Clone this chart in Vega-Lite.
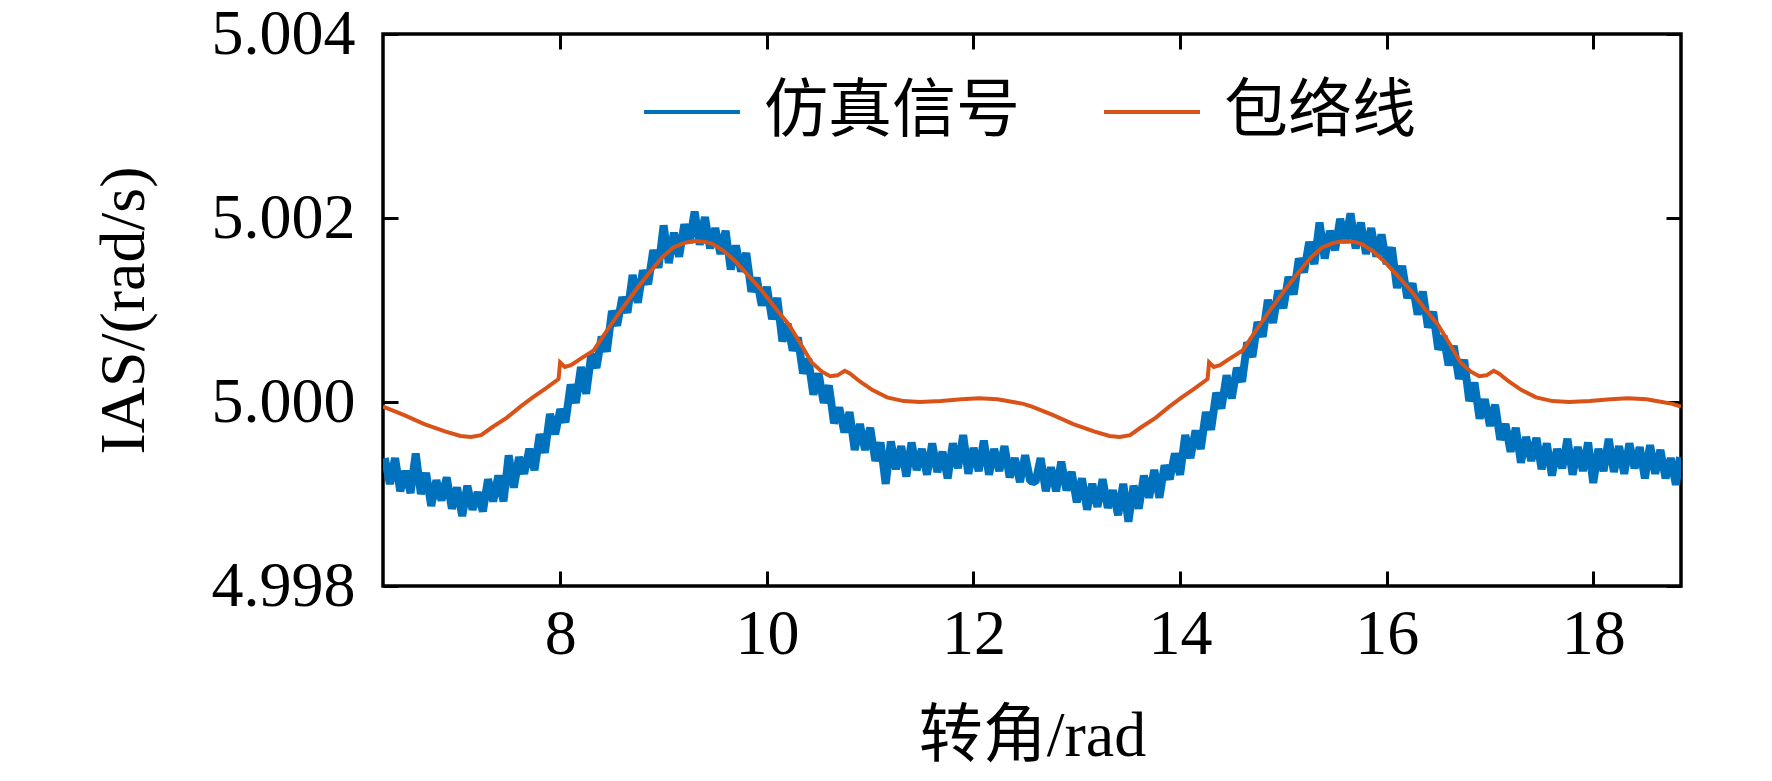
{
  "$schema": "https://vega.github.io/schema/vega-lite/v6.json",
  "width": 1298,
  "height": 552,
  "autosize": {"type": "none"},
  "padding": {"left": 383, "top": 34, "right": 91, "bottom": 195},
  "background": "white",
  "datasets": {
    "blue": [
      {"x": 6.30, "y": 4.99939}, {"x": 6.35, "y": 4.99911}, {"x": 6.40, "y": 4.99939}, {"x": 6.45, "y": 4.99903},
      {"x": 6.50, "y": 4.99925}, {"x": 6.55, "y": 4.99901}, {"x": 6.60, "y": 4.99944}, {"x": 6.65, "y": 4.99900},
      {"x": 6.70, "y": 4.99923}, {"x": 6.75, "y": 4.99887}, {"x": 6.80, "y": 4.99915}, {"x": 6.85, "y": 4.99893},
      {"x": 6.90, "y": 4.99918}, {"x": 6.95, "y": 4.99884}, {"x": 7.00, "y": 4.99907}, {"x": 7.05, "y": 4.99876},
      {"x": 7.10, "y": 4.99909}, {"x": 7.15, "y": 4.99883}, {"x": 7.20, "y": 4.99902}, {"x": 7.25, "y": 4.99881},
      {"x": 7.30, "y": 4.99916}, {"x": 7.35, "y": 4.99892}, {"x": 7.40, "y": 4.99920}, {"x": 7.45, "y": 4.99892},
      {"x": 7.50, "y": 4.99942}, {"x": 7.55, "y": 4.99907}, {"x": 7.60, "y": 4.99940}, {"x": 7.65, "y": 4.99922},
      {"x": 7.70, "y": 4.99949}, {"x": 7.75, "y": 4.99926}, {"x": 7.80, "y": 4.99965}, {"x": 7.85, "y": 4.99945},
      {"x": 7.90, "y": 4.99987}, {"x": 7.95, "y": 4.99965}, {"x": 8.00, "y": 4.99992}, {"x": 8.05, "y": 4.99978},
      {"x": 8.10, "y": 5.00019}, {"x": 8.15, "y": 4.99999}, {"x": 8.20, "y": 5.00038}, {"x": 8.25, "y": 5.00009},
      {"x": 8.30, "y": 5.00052}, {"x": 8.35, "y": 5.00037}, {"x": 8.40, "y": 5.00071}, {"x": 8.45, "y": 5.00055},
      {"x": 8.50, "y": 5.00099}, {"x": 8.55, "y": 5.00083}, {"x": 8.60, "y": 5.00114}, {"x": 8.65, "y": 5.00097},
      {"x": 8.70, "y": 5.00138}, {"x": 8.75, "y": 5.00108}, {"x": 8.80, "y": 5.00143}, {"x": 8.85, "y": 5.00128},
      {"x": 8.90, "y": 5.00165}, {"x": 8.95, "y": 5.00146}, {"x": 9.00, "y": 5.00192}, {"x": 9.05, "y": 5.00151},
      {"x": 9.10, "y": 5.00184}, {"x": 9.15, "y": 5.00158}, {"x": 9.20, "y": 5.00193}, {"x": 9.25, "y": 5.00173},
      {"x": 9.30, "y": 5.00207}, {"x": 9.35, "y": 5.00171}, {"x": 9.40, "y": 5.00201}, {"x": 9.45, "y": 5.00167},
      {"x": 9.50, "y": 5.00189}, {"x": 9.55, "y": 5.00161}, {"x": 9.60, "y": 5.00186}, {"x": 9.65, "y": 5.00144},
      {"x": 9.70, "y": 5.00170}, {"x": 9.75, "y": 5.00142}, {"x": 9.80, "y": 5.00162}, {"x": 9.85, "y": 5.00120},
      {"x": 9.90, "y": 5.00135}, {"x": 9.95, "y": 5.00105}, {"x": 10.00, "y": 5.00125}, {"x": 10.05, "y": 5.00090},
      {"x": 10.10, "y": 5.00113}, {"x": 10.15, "y": 5.00066}, {"x": 10.20, "y": 5.00085}, {"x": 10.25, "y": 5.00056},
      {"x": 10.30, "y": 5.00070}, {"x": 10.35, "y": 5.00031}, {"x": 10.40, "y": 5.00047}, {"x": 10.45, "y": 5.00008},
      {"x": 10.50, "y": 5.00031}, {"x": 10.55, "y": 4.99999}, {"x": 10.60, "y": 5.00018}, {"x": 10.65, "y": 4.99977},
      {"x": 10.70, "y": 4.99994}, {"x": 10.75, "y": 4.99967}, {"x": 10.80, "y": 4.99989}, {"x": 10.85, "y": 4.99948},
      {"x": 10.90, "y": 4.99976}, {"x": 10.95, "y": 4.99948}, {"x": 11.00, "y": 4.99972}, {"x": 11.05, "y": 4.99936},
      {"x": 11.10, "y": 4.99956}, {"x": 11.15, "y": 4.99911}, {"x": 11.20, "y": 4.99957}, {"x": 11.25, "y": 4.99927},
      {"x": 11.30, "y": 4.99952}, {"x": 11.35, "y": 4.99919}, {"x": 11.40, "y": 4.99956}, {"x": 11.45, "y": 4.99926},
      {"x": 11.50, "y": 4.99949}, {"x": 11.55, "y": 4.99921}, {"x": 11.60, "y": 4.99955}, {"x": 11.65, "y": 4.99924},
      {"x": 11.70, "y": 4.99946}, {"x": 11.75, "y": 4.99917}, {"x": 11.80, "y": 4.99955}, {"x": 11.85, "y": 4.99928},
      {"x": 11.90, "y": 4.99964}, {"x": 11.95, "y": 4.99922}, {"x": 12.00, "y": 4.99950}, {"x": 12.05, "y": 4.99925},
      {"x": 12.10, "y": 4.99958}, {"x": 12.15, "y": 4.99921}, {"x": 12.20, "y": 4.99949}, {"x": 12.25, "y": 4.99925},
      {"x": 12.30, "y": 4.99952}, {"x": 12.35, "y": 4.99918}, {"x": 12.40, "y": 4.99939}, {"x": 12.45, "y": 4.99913},
      {"x": 12.50, "y": 4.99942}, {"x": 12.55, "y": 4.99914},
      {"x": 12.60, "y": 4.99913}, {"x": 12.65, "y": 4.99939}, {"x": 12.70, "y": 4.99903}, {"x": 12.75, "y": 4.99929},
      {"x": 12.80, "y": 4.99903}, {"x": 12.85, "y": 4.99935}, {"x": 12.90, "y": 4.99904}, {"x": 12.95, "y": 4.99924},
      {"x": 13.00, "y": 4.99891}, {"x": 13.05, "y": 4.99917}, {"x": 13.10, "y": 4.99883}, {"x": 13.15, "y": 4.99911},
      {"x": 13.20, "y": 4.99886}, {"x": 13.25, "y": 4.99916}, {"x": 13.30, "y": 4.99885}, {"x": 13.35, "y": 4.99904},
      {"x": 13.40, "y": 4.99877}, {"x": 13.45, "y": 4.99911}, {"x": 13.50, "y": 4.99870}, {"x": 13.55, "y": 4.99909},
      {"x": 13.60, "y": 4.99884}, {"x": 13.65, "y": 4.99920}, {"x": 13.70, "y": 4.99896}, {"x": 13.75, "y": 4.99926},
      {"x": 13.80, "y": 4.99896}, {"x": 13.85, "y": 4.99931}, {"x": 13.90, "y": 4.99916}, {"x": 13.95, "y": 4.99944},
      {"x": 14.00, "y": 4.99921}, {"x": 14.05, "y": 4.99964}, {"x": 14.10, "y": 4.99939}, {"x": 14.15, "y": 4.99969},
      {"x": 14.20, "y": 4.99949}, {"x": 14.25, "y": 4.99989}, {"x": 14.30, "y": 4.99970}, {"x": 14.35, "y": 5.00010},
      {"x": 14.40, "y": 4.99993}, {"x": 14.45, "y": 5.00029}, {"x": 14.50, "y": 5.00004}, {"x": 14.55, "y": 5.00037},
      {"x": 14.60, "y": 5.00022}, {"x": 14.65, "y": 5.00065}, {"x": 14.70, "y": 5.00049}, {"x": 14.75, "y": 5.00087},
      {"x": 14.80, "y": 5.00071}, {"x": 14.85, "y": 5.00111}, {"x": 14.90, "y": 5.00086}, {"x": 14.95, "y": 5.00121},
      {"x": 15.00, "y": 5.00102}, {"x": 15.05, "y": 5.00136}, {"x": 15.10, "y": 5.00117}, {"x": 15.15, "y": 5.00156},
      {"x": 15.20, "y": 5.00141}, {"x": 15.25, "y": 5.00174}, {"x": 15.30, "y": 5.00150}, {"x": 15.35, "y": 5.00195},
      {"x": 15.40, "y": 5.00156}, {"x": 15.45, "y": 5.00186}, {"x": 15.50, "y": 5.00165}, {"x": 15.55, "y": 5.00199},
      {"x": 15.60, "y": 5.00173}, {"x": 15.65, "y": 5.00205}, {"x": 15.70, "y": 5.00167}, {"x": 15.75, "y": 5.00195},
      {"x": 15.80, "y": 5.00161}, {"x": 15.85, "y": 5.00189}, {"x": 15.90, "y": 5.00158}, {"x": 15.95, "y": 5.00182},
      {"x": 16.00, "y": 5.00150}, {"x": 16.05, "y": 5.00168}, {"x": 16.10, "y": 5.00124}, {"x": 16.15, "y": 5.00148},
      {"x": 16.20, "y": 5.00113}, {"x": 16.25, "y": 5.00129}, {"x": 16.30, "y": 5.00095}, {"x": 16.35, "y": 5.00120},
      {"x": 16.40, "y": 5.00081}, {"x": 16.45, "y": 5.00098}, {"x": 16.50, "y": 5.00057}, {"x": 16.55, "y": 5.00072},
      {"x": 16.60, "y": 5.00040}, {"x": 16.65, "y": 5.00061}, {"x": 16.70, "y": 5.00025}, {"x": 16.75, "y": 5.00046},
      {"x": 16.80, "y": 5.00001}, {"x": 16.85, "y": 5.00021}, {"x": 16.90, "y": 4.99982}, {"x": 16.95, "y": 5.00003},
      {"x": 17.00, "y": 4.99974}, {"x": 17.05, "y": 4.99997}, {"x": 17.10, "y": 4.99959}, {"x": 17.15, "y": 4.99976},
      {"x": 17.20, "y": 4.99946}, {"x": 17.25, "y": 4.99972}, {"x": 17.30, "y": 4.99934}, {"x": 17.35, "y": 4.99962},
      {"x": 17.40, "y": 4.99936}, {"x": 17.45, "y": 4.99961}, {"x": 17.50, "y": 4.99927}, {"x": 17.55, "y": 4.99955},
      {"x": 17.60, "y": 4.99920}, {"x": 17.65, "y": 4.99949}, {"x": 17.70, "y": 4.99928}, {"x": 17.75, "y": 4.99960},
      {"x": 17.80, "y": 4.99921}, {"x": 17.85, "y": 4.99951}, {"x": 17.90, "y": 4.99925}, {"x": 17.95, "y": 4.99956},
      {"x": 18.00, "y": 4.99912}, {"x": 18.05, "y": 4.99949}, {"x": 18.10, "y": 4.99925}, {"x": 18.15, "y": 4.99960},
      {"x": 18.20, "y": 4.99924}, {"x": 18.25, "y": 4.99952}, {"x": 18.30, "y": 4.99922}, {"x": 18.35, "y": 4.99955},
      {"x": 18.40, "y": 4.99928}, {"x": 18.45, "y": 4.99951}, {"x": 18.50, "y": 4.99917}, {"x": 18.55, "y": 4.99953},
      {"x": 18.60, "y": 4.99922}, {"x": 18.65, "y": 4.99948}, {"x": 18.70, "y": 4.99917}, {"x": 18.75, "y": 4.99939},
      {"x": 18.80, "y": 4.99910}, {"x": 18.84, "y": 4.99940}
    ],
    "orange": [
      {"x": 6.2832, "y": 4.99995}, {"x": 6.483, "y": 4.99986}, {"x": 6.683, "y": 4.99976}, {"x": 6.883, "y": 4.99968},
      {"x": 7.033, "y": 4.99963}, {"x": 7.133, "y": 4.99962}, {"x": 7.233, "y": 4.99964}, {"x": 7.333, "y": 4.99972},
      {"x": 7.483, "y": 4.99983}, {"x": 7.613, "y": 4.99995}, {"x": 7.733, "y": 5.00005}, {"x": 7.863, "y": 5.00015},
      {"x": 7.983, "y": 5.00025}, {"x": 7.998, "y": 5.00043}, {"x": 8.043, "y": 5.00038}, {"x": 8.103, "y": 5.00040},
      {"x": 8.183, "y": 5.00046}, {"x": 8.323, "y": 5.00056}, {"x": 8.453, "y": 5.00078}, {"x": 8.583, "y": 5.00099},
      {"x": 8.733, "y": 5.00122}, {"x": 8.873, "y": 5.00142}, {"x": 8.983, "y": 5.00157}, {"x": 9.093, "y": 5.00168},
      {"x": 9.203, "y": 5.00173}, {"x": 9.303, "y": 5.00175}, {"x": 9.403, "y": 5.00174}, {"x": 9.473, "y": 5.00172},
      {"x": 9.583, "y": 5.00164}, {"x": 9.693, "y": 5.00153}, {"x": 9.823, "y": 5.00137}, {"x": 9.953, "y": 5.00121},
      {"x": 10.083, "y": 5.00102}, {"x": 10.213, "y": 5.00084}, {"x": 10.333, "y": 5.00062}, {"x": 10.433, "y": 5.00043},
      {"x": 10.533, "y": 5.00033}, {"x": 10.613, "y": 5.00028}, {"x": 10.683, "y": 5.00029}, {"x": 10.753, "y": 5.00034},
      {"x": 10.803, "y": 5.00031}, {"x": 10.903, "y": 5.00022}, {"x": 11.023, "y": 5.00013}, {"x": 11.163, "y": 5.00005},
      {"x": 11.323, "y": 5.00001}, {"x": 11.483, "y": 5.00000}, {"x": 11.683, "y": 5.00001}, {"x": 11.883, "y": 5.00003},
      {"x": 12.053, "y": 5.00004}, {"x": 12.233, "y": 5.00003}, {"x": 12.383, "y": 5.00000}, {"x": 12.483, "y": 4.99998},
      {"x": 12.566, "y": 4.99995}, {"x": 12.766, "y": 4.99986}, {"x": 12.966, "y": 4.99976}, {"x": 13.166, "y": 4.99968},
      {"x": 13.316, "y": 4.99963}, {"x": 13.416, "y": 4.99962}, {"x": 13.516, "y": 4.99964}, {"x": 13.616, "y": 4.99972},
      {"x": 13.766, "y": 4.99983}, {"x": 13.896, "y": 4.99995}, {"x": 14.016, "y": 5.00005}, {"x": 14.146, "y": 5.00015},
      {"x": 14.266, "y": 5.00025}, {"x": 14.281, "y": 5.00043}, {"x": 14.326, "y": 5.00038}, {"x": 14.386, "y": 5.00040},
      {"x": 14.466, "y": 5.00046}, {"x": 14.606, "y": 5.00056}, {"x": 14.736, "y": 5.00078}, {"x": 14.866, "y": 5.00099},
      {"x": 15.016, "y": 5.00122}, {"x": 15.156, "y": 5.00142}, {"x": 15.266, "y": 5.00157}, {"x": 15.376, "y": 5.00168},
      {"x": 15.486, "y": 5.00173}, {"x": 15.586, "y": 5.00175}, {"x": 15.686, "y": 5.00174}, {"x": 15.756, "y": 5.00172},
      {"x": 15.866, "y": 5.00164}, {"x": 15.976, "y": 5.00153}, {"x": 16.106, "y": 5.00137}, {"x": 16.236, "y": 5.00121},
      {"x": 16.366, "y": 5.00102}, {"x": 16.496, "y": 5.00084}, {"x": 16.616, "y": 5.00062}, {"x": 16.716, "y": 5.00043},
      {"x": 16.816, "y": 5.00033}, {"x": 16.896, "y": 5.00028}, {"x": 16.966, "y": 5.00029}, {"x": 17.036, "y": 5.00034},
      {"x": 17.086, "y": 5.00031}, {"x": 17.186, "y": 5.00022}, {"x": 17.306, "y": 5.00013}, {"x": 17.446, "y": 5.00005},
      {"x": 17.606, "y": 5.00001}, {"x": 17.766, "y": 5.00000}, {"x": 17.966, "y": 5.00001}, {"x": 18.166, "y": 5.00003},
      {"x": 18.336, "y": 5.00004}, {"x": 18.516, "y": 5.00003}, {"x": 18.666, "y": 5.00000}, {"x": 18.766, "y": 4.99998},
      {"x": 18.849, "y": 4.99995}
    ]
  },
  "layer": [
    {
      "data": {"name": "blue"},
      "mark": {"type": "line", "strokeWidth": 8, "strokeJoin": "bevel", "clip": true},
      "encoding": {
        "x": {
          "field": "x",
          "type": "quantitative",
          "scale": {"domain": [6.2832, 18.8496], "nice": false, "zero": false},
          "axis": {
            "orient": "bottom",
            "values": [8, 10, 12, 14, 16, 18],
            "labelBaseline": "middle",
            "labelPadding": 63,
            "title": "转角/rad",
            "titleX": 649,
            "titleY": 150,
            "titleBaseline": "middle"
          }
        },
        "y": {
          "field": "y",
          "type": "quantitative",
          "scale": {"domain": [4.998, 5.004], "nice": false, "zero": false},
          "axis": {
            "orient": "left",
            "values": [4.998, 5.000, 5.002, 5.004],
            "format": ".3f",
            "labelPadding": 43,
            "title": "IAS/(rad/s)",
            "titleX": -259,
            "titleY": 276,
            "titleAlign": "center",
            "titleBaseline": "middle"
          }
        },
        "color": {
          "datum": "仿真信号",
          "type": "nominal",
          "scale": {"domain": ["仿真信号", "包络线"], "range": ["#0072BD", "#D95319"]},
          "legend": {"title": null}
        }
      }
    },
    {
      "data": {"name": "orange"},
      "mark": {"type": "line", "strokeWidth": 4, "clip": true},
      "encoding": {
        "x": {
          "field": "x",
          "type": "quantitative",
          "scale": {"domain": [6.2832, 18.8496], "nice": false, "zero": false},
          "axis": {"orient": "top", "values": [8, 10, 12, 14, 16, 18], "labels": false, "title": null}
        },
        "y": {
          "field": "y",
          "type": "quantitative",
          "scale": {"domain": [4.998, 5.004], "nice": false, "zero": false},
          "axis": {"orient": "right", "values": [4.998, 5.000, 5.002, 5.004], "labels": false, "title": null}
        },
        "color": {
          "datum": "包络线",
          "type": "nominal",
          "scale": {"domain": ["仿真信号", "包络线"], "range": ["#0072BD", "#D95319"]},
          "legend": {"title": null}
        }
      }
    }
  ],
  "resolve": {"scale": {"x": "independent", "y": "independent"}, "axis": {"x": "independent", "y": "independent"}},
  "config": {
    "view": {"stroke": "black", "strokeWidth": 3.5},
    "axis": {
      "domain": false,
      "grid": false,
      "ticks": true,
      "tickSize": -15,
      "tickWidth": 3,
      "tickColor": "black",
      "labelFont": "Liberation Serif",
      "labelFontSize": 64,
      "labelColor": "black",
      "labelFlush": false,
      "labelOverlap": false,
      "titleFont": "Liberation Serif, Noto Sans CJK SC",
      "titleFontSize": 64,
      "titleFontWeight": "normal",
      "titleColor": "black"
    },
    "legend": {
      "orient": "none",
      "legendX": 259,
      "legendY": 28,
      "direction": "horizontal",
      "symbolType": "stroke",
      "symbolSize": 9216,
      "symbolStrokeWidth": 4,
      "labelFont": "Liberation Serif, Noto Sans CJK SC",
      "labelFontSize": 64,
      "labelColor": "black",
      "labelOffset": 22,
      "columnPadding": 76,
      "padding": 0,
      "labelLimit": 0
    }
  }
}
